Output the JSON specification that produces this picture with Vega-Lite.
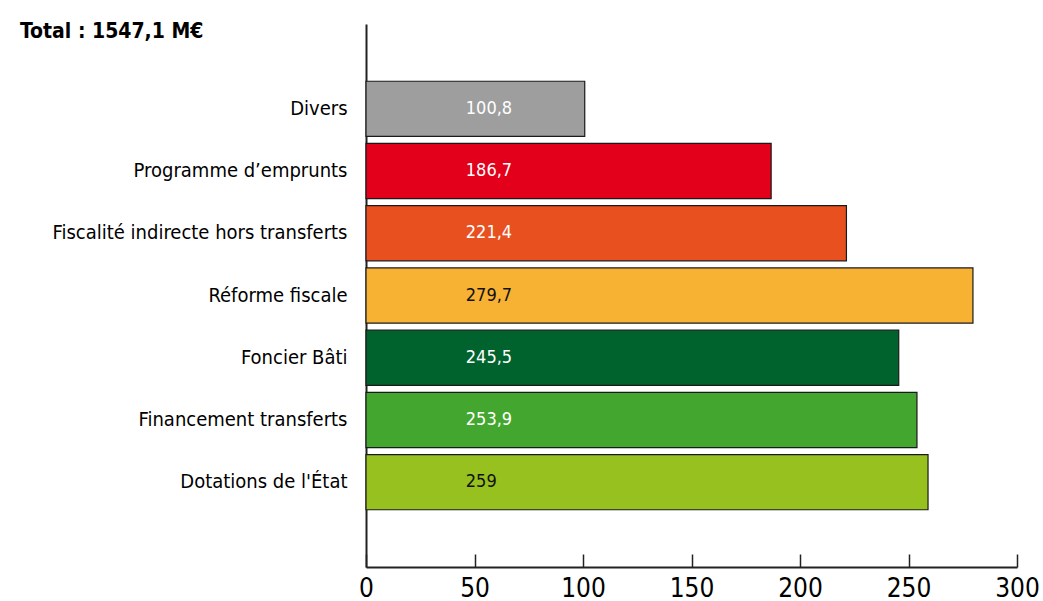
{
  "$schema": "https://vega.github.io/schema/vega-lite/v6.json",
  "width": 651,
  "height": 543,
  "autosize": "none",
  "padding": {"left": 366, "top": 24, "right": 26, "bottom": 34},
  "background": "white",
  "view": {"stroke": null},
  "title": {
    "text": "Total : 1547,1 M€",
    "anchor": "start",
    "frame": "group",
    "dx": -346,
    "dy": 22,
    "font": "DejaVu Sans Condensed, sans-serif",
    "fontSize": 21,
    "fontWeight": "bold",
    "color": "#000000"
  },
  "data": {
    "values": [
      {"cat": "Divers", "value": 100.8, "label": "100,8"},
      {"cat": "Programme d’emprunts", "value": 186.7, "label": "186,7"},
      {"cat": "Fiscalité indirecte hors transferts", "value": 221.4, "label": "221,4"},
      {"cat": "Réforme fiscale", "value": 279.7, "label": "279,7"},
      {"cat": "Foncier Bâti", "value": 245.5, "label": "245,5"},
      {"cat": "Financement transferts", "value": 253.9, "label": "253,9"},
      {"cat": "Dotations de l'État", "value": 259, "label": "259"}
    ]
  },
  "encoding": {
    "y": {
      "field": "cat",
      "type": "nominal",
      "sort": null,
      "scale": {"paddingInner": 0.113, "paddingOuter": 0.92},
      "axis": {
        "title": null,
        "ticks": false,
        "labelPadding": 19,
        "labelFont": "DejaVu Sans Condensed, sans-serif",
        "labelFontSize": 20,
        "labelColor": "#000000",
        "domainColor": "#222222",
        "domainWidth": 2,
        "labelLimit": 400
      }
    }
  },
  "layer": [
    {
      "mark": {"type": "bar", "stroke": "#1a1a1a", "strokeWidth": 1.2},
      "encoding": {
        "x": {
          "field": "value",
          "type": "quantitative",
          "scale": {"domain": [0, 300], "nice": false},
          "axis": {
            "title": null,
            "grid": false,
            "values": [0, 50, 100, 150, 200, 250, 300],
            "tickSize": -13,
            "tickColor": "#222222",
            "tickWidth": 1.5,
            "domainColor": "#222222",
            "domainWidth": 2,
            "labelPadding": 21,
            "labelFont": "DejaVu Sans Condensed, sans-serif",
            "labelFontSize": 26,
            "labelColor": "#000000",
            "labelFlush": false
          }
        },
        "color": {
          "field": "cat",
          "type": "nominal",
          "legend": null,
          "scale": {
            "domain": ["Divers", "Programme d’emprunts", "Fiscalité indirecte hors transferts", "Réforme fiscale", "Foncier Bâti", "Financement transferts", "Dotations de l'État"],
            "range": ["#9e9e9e", "#e2001a", "#e8511f", "#f7b133", "#00632e", "#43a62e", "#96c11e"]
          }
        }
      }
    },
    {
      "mark": {
        "type": "text",
        "align": "left",
        "baseline": "middle",
        "font": "DejaVu Sans Condensed, sans-serif",
        "fontSize": 18
      },
      "encoding": {
        "x": {"datum": 46},
        "text": {"field": "label"},
        "color": {
          "condition": {"test": "datum.cat === 'Réforme fiscale' || datum.cat === \"Dotations de l'État\"", "value": "#111111"},
          "value": "#ffffff"
        }
      }
    }
  ]
}
